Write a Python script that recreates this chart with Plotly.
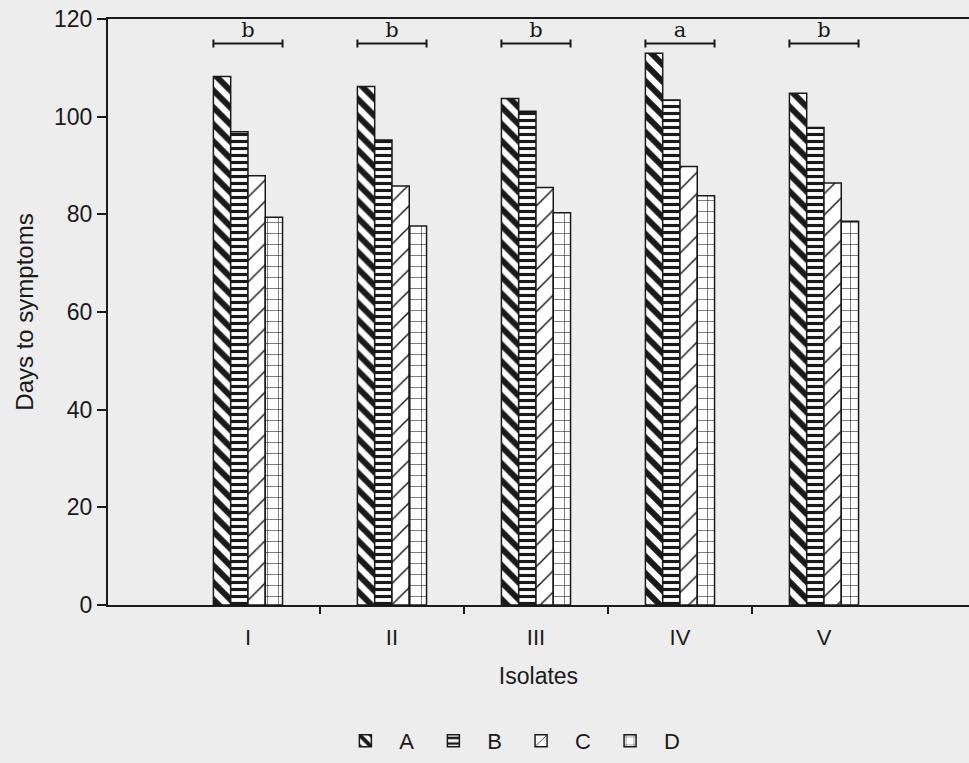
import plotly.graph_objects as go

# ---- data ----
isolates = ["I", "II", "III", "IV", "V"]
series_names = ["A", "B", "C", "D"]
A = [108.2, 106.2, 103.7, 113.0, 104.8]
B = [96.9, 95.2, 101.1, 103.4, 97.8]
C = [87.9, 85.8, 85.5, 89.8, 86.4]
D = [79.4, 77.6, 80.3, 83.8, 78.6]
sig_letters = ["b", "b", "b", "a", "b"]
sig_level = [115, 115, 115, 115, 115]
y_ticks = [0, 20, 40, 60, 80, 100, 120]

values = {"A": A, "B": B, "C": C, "D": D}
patterns = {
    "A": dict(shape="\\", size=12, solidity=0.5),
    "B": dict(shape="-", size=7, solidity=0.45),
    "C": dict(shape="/", size=15, solidity=0.1),
    "D": dict(shape="+", size=11, solidity=0.1),
}

BG = "#ededed"
INK = "#1a1a1a"
bargap = 0.52
xpos = list(range(len(isolates)))

fig = go.Figure()
for name in series_names:
    p = patterns[name]
    fig.add_trace(go.Bar(
        x=xpos, y=values[name], name=name,
        marker=dict(color="white", line=dict(color=INK, width=1.5),
                    pattern=dict(shape=p["shape"], size=p["size"], solidity=p["solidity"],
                                 fgcolor=INK, bgcolor="white", fillmode="replace")),
    ))

half = (1 - bargap) / 2
fig.add_trace(go.Scatter(
    x=xpos, y=sig_level, mode="markers+text", text=sig_letters,
    textposition="top center",
    textfont=dict(family="DejaVu Serif", size=21, color=INK),
    marker=dict(size=1, color="rgba(0,0,0,0)"),
    error_x=dict(type="constant", value=half, color=INK, thickness=2, width=4),
    showlegend=False, hoverinfo="skip",
))

fig.update_layout(
    width=969, height=763,
    margin=dict(l=108, r=0, t=19, b=158),
    paper_bgcolor=BG, plot_bgcolor=BG,
    barmode="group", bargap=bargap, bargroupgap=0,
    font=dict(family="Liberation Sans", color=INK, size=20),
    showlegend=True,
    legend=dict(orientation="h", x=0.465, xanchor="center", y=-0.232, yanchor="middle",
                font=dict(size=22, family="Liberation Sans"), bgcolor="rgba(0,0,0,0)",
                itemwidth=58, traceorder="normal"),
)
fig.update_xaxes(
    range=[-0.972, 5.007], tickvals=xpos, ticktext=isolates, ticks="",
    showline=True, linecolor=INK, linewidth=2, mirror=True, showgrid=False,
    zeroline=False, ticklabelstandoff=12,
    tickfont=dict(size=22, family="Liberation Sans"),
    minor=dict(tickvals=[0.5, 1.5, 2.5, 3.5], ticks="outside", ticklen=7,
               tickcolor=INK, tickwidth=1.5, showgrid=False),
    title=dict(text="Isolates", font=dict(size=23, family="Liberation Sans"), standoff=18),
)
fig.update_yaxes(
    range=[0, 120], tickvals=y_ticks, ticks="outside", ticklen=9, tickwidth=2,
    tickcolor=INK, showline=True, linecolor=INK, linewidth=2, mirror=False,
    showgrid=False, zeroline=False,
    tickfont=dict(size=23, family="Liberation Sans"),
    title=dict(text="Days to symptoms", font=dict(size=24, family="Liberation Sans"), standoff=14),
)

fig.write_html("out.html", config={"displayModeBar": False},
               post_script="document.body.style.margin='0';document.body.style.background='%s';" % BG)
